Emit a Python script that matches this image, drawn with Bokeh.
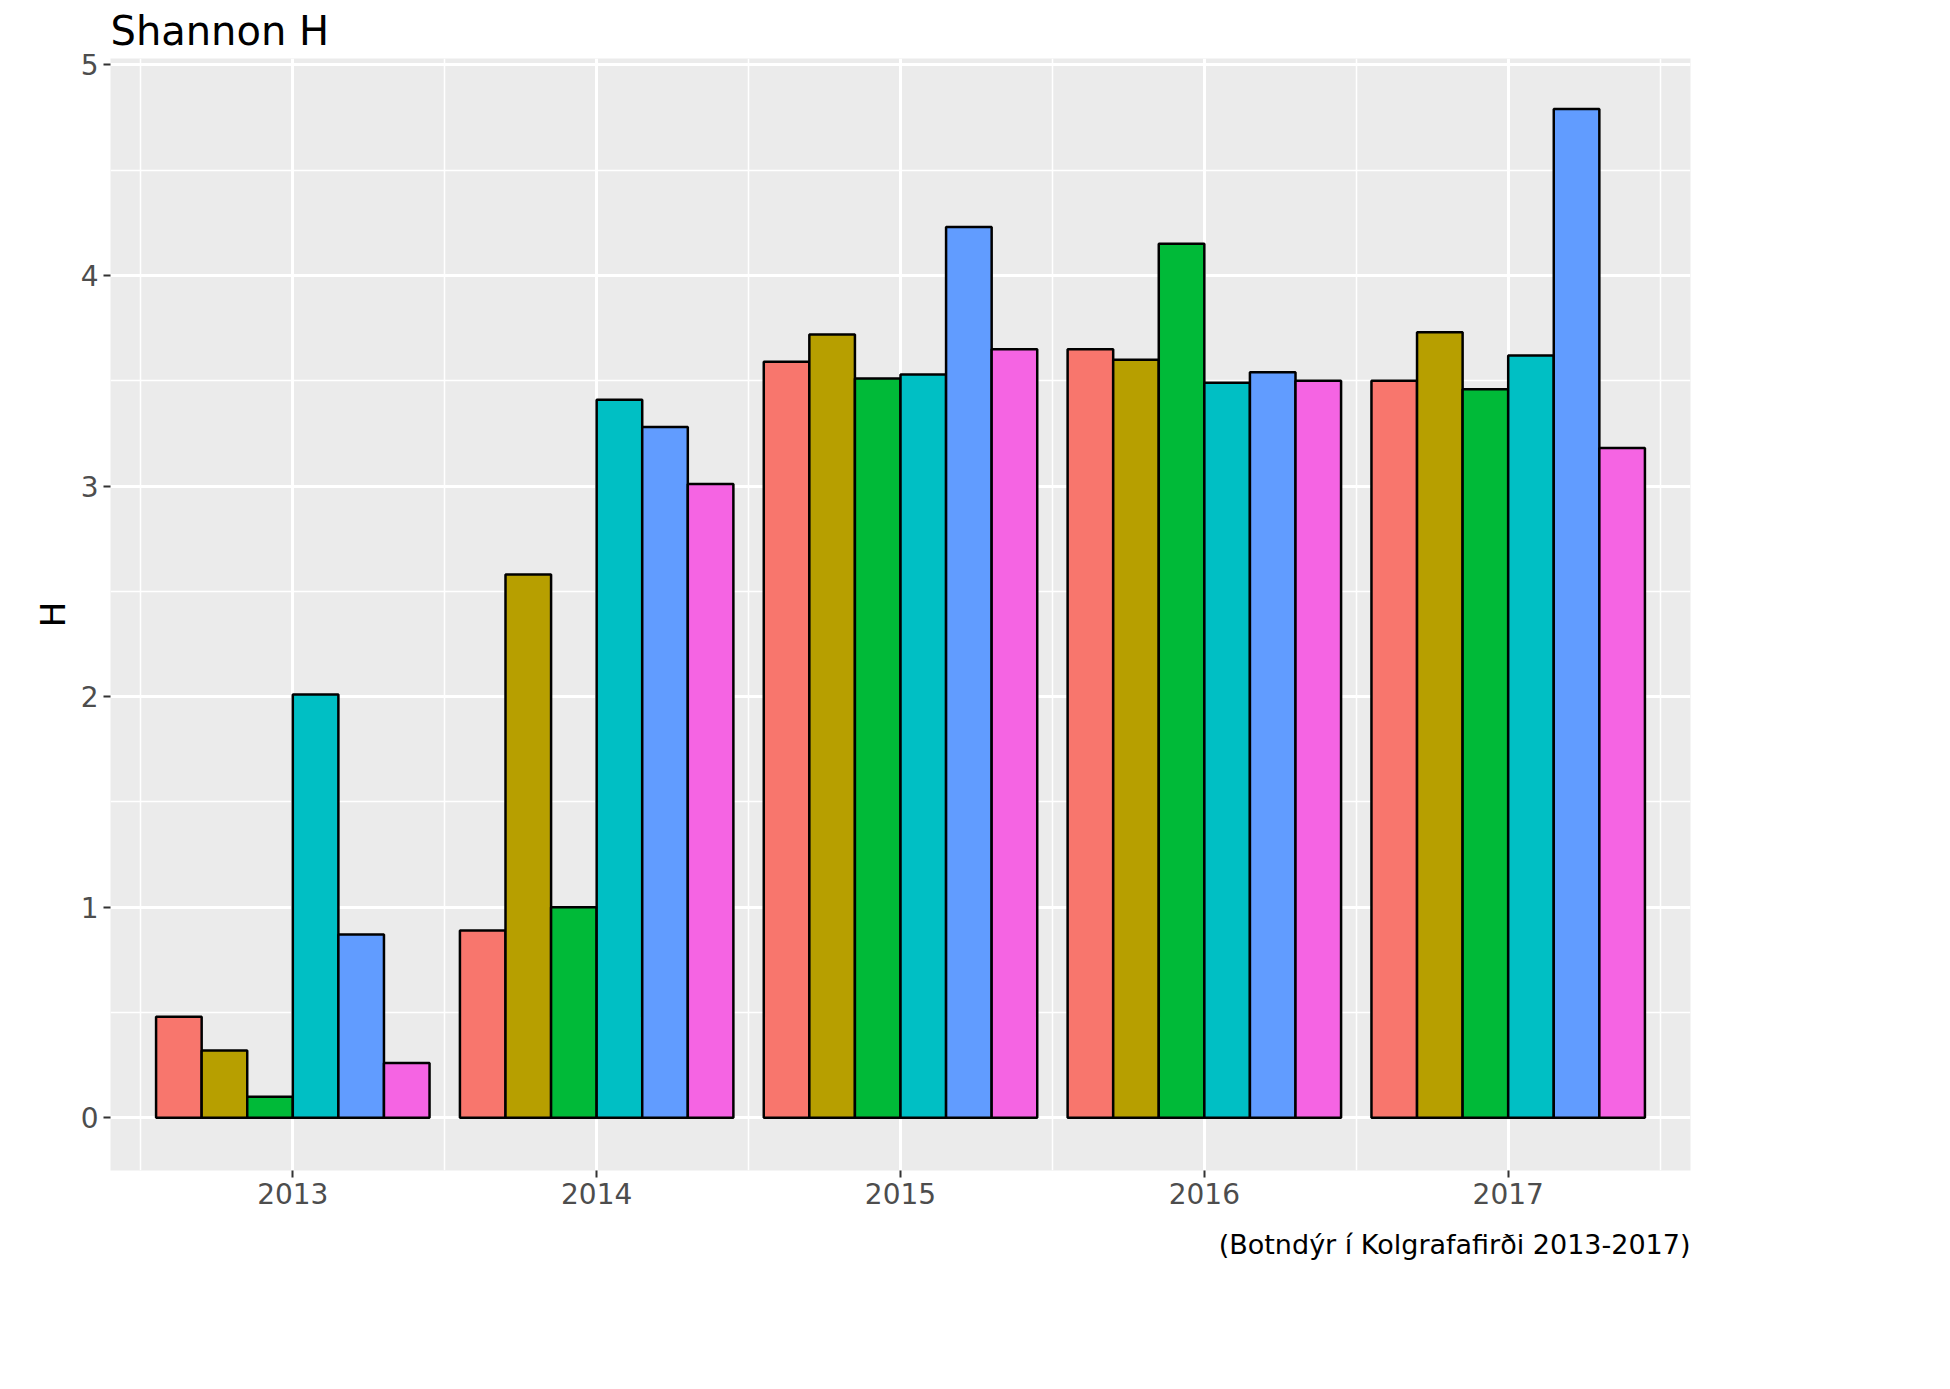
from bokeh.plotting import figure
from bokeh.models import ColumnDataSource, FixedTicker, Legend, LegendItem, Title, Range1d
from bokeh.embed import file_html
from bokeh.resources import INLINE

years = ["2013", "2014", "2015", "2016", "2017"]
stations = ["A7", "B5", "B8", "C4", "E3", "E4"]
colors = ["#F8766D", "#B79F00", "#00BA38", "#00BFC4", "#619CFF", "#F564E3"]
H = {
    "A7": [0.48, 0.89, 3.59, 3.65, 3.50],
    "B5": [0.32, 2.58, 3.72, 3.60, 3.73],
    "B8": [0.10, 1.00, 3.51, 4.15, 3.46],
    "C4": [2.01, 3.41, 3.53, 3.49, 3.62],
    "E3": [0.87, 3.28, 4.23, 3.54, 4.79],
    "E4": [0.26, 3.01, 3.65, 3.50, 3.18],
}

FONT = "DejaVu Sans"
p = figure(frame_width=1580, frame_height=1112, output_backend="svg", toolbar_location=None,
           x_range=Range1d(0.4, 5.6), y_range=Range1d(-0.25, 5.03),
           background_fill_color="#EBEBEB", border_fill_color="white",
           min_border_left=110, min_border_right=240, min_border_top=30, min_border_bottom=60)
p.outline_line_color = None
p.title.text = "Shannon H"
p.title.text_font = FONT
p.title.text_font_size = "40px"
p.title.text_font_style = "normal"
p.title.text_color = "black"
p.add_layout(Title(text="(Botndýr í Kolgrafafirði 2013-2017)", align="right",
                   text_font=FONT, text_font_size="27px", text_font_style="normal",
                   text_color="black", offset=0, standoff=40), "below")

w = 0.9 / len(stations)
items = []
for i, (st, c) in enumerate(zip(stations, colors)):
    xs = [k + 1 - 0.45 + w * (i + 0.5) for k in range(len(years))]
    src = ColumnDataSource(dict(x=xs, top=H[st]))
    r = p.vbar(x="x", top="top", bottom=0, width=w, source=src, fill_color=c,
               line_color="black", line_width=2.5)
    items.append(LegendItem(label=st, renderers=[r]))

p.xaxis.ticker = FixedTicker(ticks=[1, 2, 3, 4, 5], minor_ticks=[0.5, 1.5, 2.5, 3.5, 4.5, 5.5])
p.xaxis.major_label_overrides = {k + 1: y for k, y in enumerate(years)}
p.yaxis.ticker = FixedTicker(ticks=[0, 1, 2, 3, 4, 5], minor_ticks=[0.5, 1.5, 2.5, 3.5, 4.5])
p.yaxis.axis_label = "H"
for ax in (p.xaxis[0], p.yaxis[0]):
    ax.axis_line_color = None
    ax.minor_tick_line_color = None
    ax.major_tick_line_color = "#333333"
    ax.major_tick_line_width = 2
    ax.major_tick_in = 0
    ax.major_tick_out = 7
    ax.major_label_text_font = FONT
    ax.major_label_text_font_size = "28px"
    ax.major_label_text_color = "#4D4D4D"
    ax.axis_label_text_font = FONT
    ax.axis_label_text_font_size = "34px"
    ax.axis_label_text_font_style = "normal"
    ax.axis_label_text_color = "black"
for g in (p.xgrid[0], p.ygrid[0]):
    g.grid_line_color = "white"
    g.grid_line_width = 3
    g.minor_grid_line_color = "white"
    g.minor_grid_line_width = 1.5

legend = Legend(items=items, title="stod", location=(1640, 300),
                title_text_font=FONT, title_text_font_size="35px", title_text_font_style="normal",
                title_text_color="black", label_text_color="black",
                label_text_font=FONT, label_text_font_size="28px",
                glyph_width=66, glyph_height=66, label_height=66, spacing=6,
                border_line_color=None, background_fill_alpha=0,
                padding=10, margin=0)
p.add_layout(legend, "center")

open("out.html", "w").write(file_html(p, INLINE))
